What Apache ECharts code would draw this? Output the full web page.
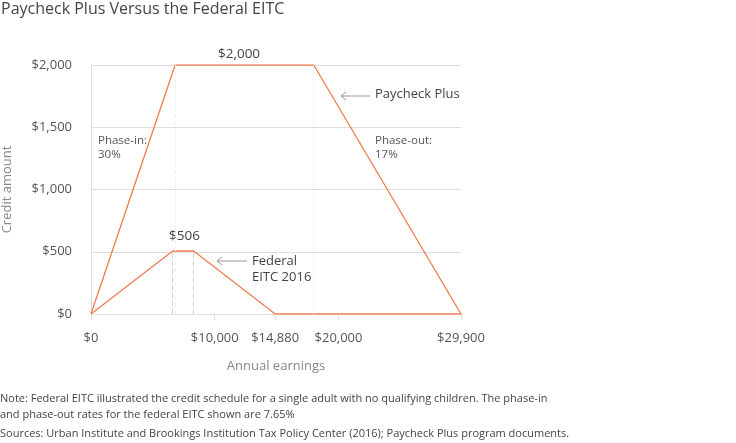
<!DOCTYPE html>
<html>
<head>
<meta charset="UTF-8">
<title>Paycheck Plus Versus the Federal EITC</title>
<script src="https://cdn.jsdelivr.net/npm/echarts@6/dist/echarts.min.js"></script>
<style>
  * { margin: 0; padding: 0; }
  body { background: #fff; }
  #app { width: 736px; height: 443px; }
</style>
</head>
<body>
<div id="app"></div>
<script>
// earnings break points and credit amounts
var paycheckPlus = [[0, 0], [6800, 2000], [18000, 2000], [29900, 0]];
var federalEitc = [[0, 0], [6600, 506], [8300, 506], [14880, 0], [29900, 0]];
var xTickValues = [0, 10000, 14880, 20000, 29900];
var eitcPlateau = [6600, 8300];
var plusPlateau = [6800, 18000];

var orange = '#f07c4f';
var font = '"Open Sans", "Noto Sans", sans-serif';

function money(v) {
  return '$' + v.toString().replace(/\B(?=(\d{3})+(?!\d))/g, ',');
}

function dashPairs(xs, top) {
  return xs.map(function (x) {
    return [{ coord: [x, 0] }, { coord: [x, top] }];
  });
}

var myChart = echarts.init(document.getElementById('app'));

var option = {
  animation: false,
  textStyle: { fontFamily: font },
  title: {
    text: 'Paycheck Plus Versus the Federal EITC',
    left: 1,
    top: 1,
    padding: 0,
    textStyle: { fontFamily: font, fontSize: 16, fontWeight: 'normal', color: '#444' }
  },
  grid: { left: 91, right: 275, top: 65, bottom: 129, outerBoundsMode: 'none', containLabel: false },
  xAxis: {
    type: 'value',
    min: 0,
    max: 29900,
    name: 'Annual earnings',
    nameLocation: 'middle',
    nameGap: 46,
    nameTextStyle: { fontSize: 13, color: '#888' },
    axisLine: { show: false },
    splitLine: { show: false },
    axisTick: {
      show: true,
      customValues: xTickValues,
      length: 6,
      lineStyle: { color: '#ddd' }
    },
    axisLabel: {
      customValues: xTickValues,
      formatter: money,
      fontSize: 13,
      color: '#555',
      margin: 18
    }
  },
  yAxis: {
    type: 'value',
    min: 0,
    max: 2000,
    interval: 500,
    name: 'Credit amount',
    nameLocation: 'middle',
    nameGap: 77,
    nameTextStyle: { fontSize: 13, color: '#888' },
    axisLine: { show: true, lineStyle: { color: '#ddd' } },
    axisTick: { show: false },
    splitLine: { lineStyle: { color: '#ddd' } },
    axisLabel: { formatter: money, fontSize: 13, color: '#555', margin: 19 }
  },
  series: [
    {
      type: 'line',
      name: 'Paycheck Plus',
      data: paycheckPlus,
      symbol: 'none',
      lineStyle: { color: orange, width: 1.3 },
      markLine: {
        silent: true,
        symbol: 'none',
        label: { show: false },
        lineStyle: { color: '#efefef', type: [4, 3], width: 1 },
        data: dashPairs(plusPlateau, 2000)
      },
      z: 3
    },
    {
      type: 'line',
      name: 'Federal EITC 2016',
      data: federalEitc,
      symbol: 'none',
      lineStyle: { color: orange, width: 1.3 },
      markLine: {
        silent: true,
        symbol: 'none',
        label: { show: false },
        lineStyle: { color: '#d0d0d0', type: [5, 3], width: 1 },
        data: dashPairs(eitcPlateau, 506)
      },
      z: 3
    }
  ],
  graphic: [
    { type: 'text', left: 218, top: 47, style: { text: '$2,000', font: '13.5px ' + font, fill: '#444' } },
    { type: 'text', left: 169, top: 229, style: { text: '$506', font: '13.5px ' + font, fill: '#444' } },
    { type: 'text', left: 375, top: 88, style: { text: 'Paycheck Plus', font: '13px ' + font, fill: '#444' } },
    { type: 'line', shape: { x1: 341, y1: 96, x2: 370, y2: 96 }, style: { stroke: '#999', lineWidth: 1 } },
    { type: 'polyline', shape: { points: [[346, 92], [341, 96], [346, 100]] }, style: { stroke: '#999', lineWidth: 1, fill: null } },
    { type: 'text', left: 252, top: 253, style: { text: 'Federal\nEITC 2016', font: '13px ' + font, fill: '#444', lineHeight: 16 } },
    { type: 'line', shape: { x1: 217, y1: 261, x2: 247, y2: 261 }, style: { stroke: '#999', lineWidth: 1 } },
    { type: 'polyline', shape: { points: [[222, 257], [217, 261], [222, 265]] }, style: { stroke: '#999', lineWidth: 1, fill: null } },
    { type: 'text', left: 98, top: 134, style: { text: 'Phase-in:\n30%', font: '11.5px ' + font, fill: '#555', lineHeight: 14 } },
    { type: 'text', left: 375, top: 134, style: { text: 'Phase-out:\n17%', font: '11.5px ' + font, fill: '#555', lineHeight: 14 } },
    { type: 'text', left: 0, top: 391, style: { text: 'Note: Federal EITC illustrated the credit schedule for a single adult with no qualifying children. The phase-in\nand phase-out rates for the federal EITC shown are 7.65%', font: '11px ' + font, fill: '#444', lineHeight: 16 } },
    { type: 'text', left: 0, top: 428, style: { text: 'Sources: Urban Institute and Brookings Institution Tax Policy Center (2016); Paycheck Plus program documents.', font: '11px ' + font, fill: '#444' } }
  ]
};

myChart.setOption(option);
</script>
</body>
</html>
